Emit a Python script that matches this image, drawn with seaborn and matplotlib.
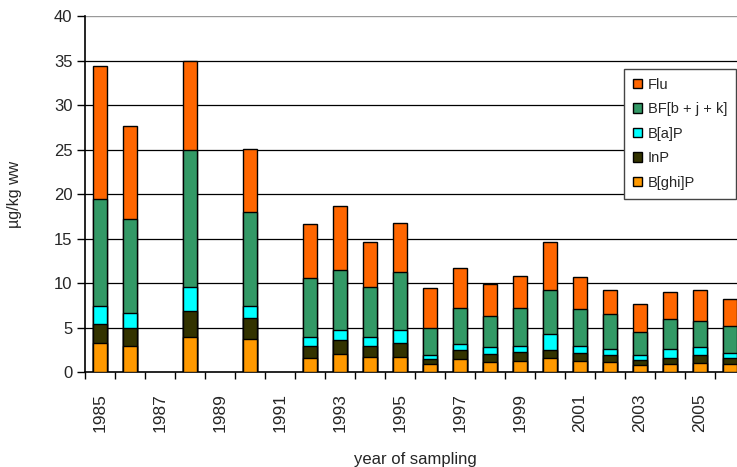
import numpy as np
import pandas as pd
import matplotlib
matplotlib.use("Agg")
import matplotlib.pyplot as plt
import seaborn as sns
from matplotlib.ticker import FixedLocator

# all years on the axis (some without samples)
all_years = [str(y) for y in range(1985, 2007)]

# sampled years and component concentrations (ug/kg ww)
years = ['1985', '1986', '1988', '1990', '1992', '1993', '1994', '1995', '1996', '1997',
         '1998', '1999', '2000', '2001', '2002', '2003', '2004', '2005', '2006']
bghip = [3.3, 2.9, 4.0, 3.7, 1.6, 2.0, 1.75, 1.75, 0.9, 1.45,
         1.15, 1.3, 1.55, 1.3, 1.15, 0.8, 0.9, 1.0, 0.9]
inp = [2.1, 2.1, 2.9, 2.4, 1.3, 1.6, 1.15, 1.5, 0.55, 1.05,
       0.9, 1.0, 0.95, 0.85, 0.8, 0.55, 0.7, 0.95, 0.7]
bap = [2.0, 1.7, 2.7, 1.3, 1.1, 1.1, 1.1, 1.45, 0.5, 0.65,
       0.75, 0.7, 1.75, 0.75, 0.65, 0.55, 1.0, 0.85, 0.55]
bf = [12.0, 10.5, 15.4, 10.6, 6.6, 6.8, 5.55, 6.6, 3.05, 4.05,
      3.55, 4.2, 4.95, 4.2, 4.0, 2.6, 3.35, 2.95, 3.0]
flu = [15.0, 10.5, 9.9, 7.1, 6.0, 7.2, 5.1, 5.45, 4.45, 4.5,
       3.55, 3.65, 5.45, 3.6, 2.6, 3.15, 3.05, 3.45, 3.1]

labels = ['Flu', 'BF[b + j + k]', 'B[a]P', 'InP', 'B[ghi]P']
colors = ['#FF6600', '#339966', '#00FFFF', '#333300', '#FF9900']

df = pd.DataFrame({'year': years, 'B[ghi]P': bghip, 'InP': inp, 'B[a]P': bap,
                   'BF[b + j + k]': bf, 'Flu': flu})

# cumulative stacks, drawn from the top down
stack_order = ['B[ghi]P', 'InP', 'B[a]P', 'BF[b + j + k]', 'Flu']
cum = df[stack_order].cumsum(axis=1)

sns.set_style("white")
plt.rcParams['font.family'] = ['Liberation Sans', 'DejaVu Sans']

fig = plt.figure(figsize=(7.37, 4.67), dpi=100)
ax = fig.add_axes([85 / 737, (467 - 372.3) / 467, 660 / 737, (372.3 - 16) / 467])

for comp in stack_order[::-1]:
    col = colors[labels.index(comp)]
    sns.barplot(x=df['year'], y=cum[comp], order=all_years, color=col, width=0.45,
                edgecolor='black', linewidth=1.0, saturation=1, ax=ax, zorder=3)

ax.set_ylim(0, 40)
ax.set_xlim(-0.5, 21.5)
ax.set_yticks(range(0, 41, 5))
for v in range(5, 40, 5):
    ax.axhline(v, color='black', linewidth=0.9, zorder=1)
ax.axhline(40, color='#999999', linewidth=1.0, zorder=1)

# labels on every other year, tick marks between categories
ax.xaxis.set_major_locator(FixedLocator(list(range(0, 22, 2))))
ax.set_xticklabels(all_years[::2], rotation=90, fontsize=12.5)
ax.xaxis.set_minor_locator(FixedLocator(list(np.arange(-0.5, 22, 1.0))))
ax.tick_params(axis='x', which='major', length=0, pad=15)
ax.tick_params(axis='x', which='minor', length=5, width=1, color='black', direction='out', bottom=True)
ax.tick_params(axis='y', length=6, width=1, color='black', direction='out', left=True,
               labelsize=12, pad=3)

for s in ['top', 'right']:
    ax.spines[s].set_visible(False)
for s in ['left', 'bottom']:
    ax.spines[s].set_color('black')
    ax.spines[s].set_linewidth(1.2)

ax.set_xlabel('year of sampling', fontsize=12, labelpad=14)
ax.set_ylabel('µg/kg ww', fontsize=11.5, labelpad=23)

handles = [plt.Rectangle((0, 0), 1, 1, facecolor=c, edgecolor='black', linewidth=1) for c in colors]
leg = ax.legend(handles, labels, loc='upper left', bbox_to_anchor=(539 / 660, (372.3 - 69) / 356.3),
                borderaxespad=0, frameon=True, fancybox=False, edgecolor='#444444', framealpha=1,
                prop={'size': 10.5}, handlelength=0.65, handleheight=0.65,
                handletextpad=0.4, labelspacing=0.72, borderpad=0.6)
leg.get_frame().set_linewidth(1.0)

fig.savefig('out.png', dpi=100)
